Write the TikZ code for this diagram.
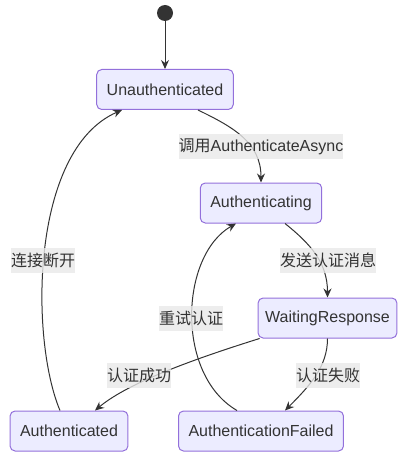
\documentclass[tikz,border=0pt]{standalone}
\usepackage{fontspec}
\setmainfont{Liberation Sans}
\newfontfamily\cjk{Noto Sans CJK SC}
\usetikzlibrary{arrows.meta}
\definecolor{mmfill}{HTML}{ECECFF}
\definecolor{mmline}{HTML}{9370DB}
\definecolor{mmtext}{HTML}{333333}
\definecolor{mmlabel}{HTML}{E8E8E8}

\begin{document}
\begin{tikzpicture}[x=1pt, y=-1pt,
        state/.style={draw=mmline, line width=1pt, rounded corners=5pt, fill=mmfill,
                      text=mmtext, minimum height=40pt, inner xsep=10pt,
                      font=\fontsize{16}{19}\selectfont},
        lbl/.style={fill=mmlabel, fill opacity=0.8, text opacity=1, text=mmtext,
                    inner xsep=0pt, inner ysep=0pt, minimum height=25pt,
                    font=\fontsize{16}{19}\selectfont},
        arr/.style={-{Stealth[length=9pt, width=8pt, inset=3pt]}, line width=1pt, mmtext}
    ]
        \useasboundingbox (0,0) rectangle (399,465);
        % states
        \node[circle, fill=mmtext, inner sep=0pt, minimum size=16pt] (start) at (165,13) {};
        \node[state] (unauth) at (165,89.5) {Unauthenticated};
        \node[state] (authing) at (261,203) {Authenticating};
        \node[state, inner xsep=7pt] (waiting) at (327.5,318) {WaitingResponse};
        \node[state] (authed) at (69,431) {Authenticated};
        \node[state] (failed) at (261,431) {AuthenticationFailed};
        % transitions
        \draw[arr] (start) -- (unauth);
        \draw[arr] ([xshift=33pt]unauth.south) .. controls +(35,17) and +(0,-40) .. (authing.north);
        \draw[arr] ([xshift=24pt]authing.south) .. controls +(25,20) and +(0,-35) .. (waiting.north);
        \draw[arr] ([xshift=2pt]waiting.south west) .. controls +(-80,25) and +(30,-25) .. ([xshift=26pt]authed.north);
        \draw[arr] (waiting.south) .. controls +(0,28) and +(25,-25) .. ([xshift=24pt]failed.north);
        \draw[arr] ([xshift=-9pt]authed.north) .. controls +(-30,-71) and +(-92,40) .. ([xshift=-43pt]unauth.south);
        \draw[arr] ([xshift=-24pt]failed.north) .. controls +(-62,-36) and +(-56,32) .. ([xshift=-25pt]authing.south);
        % labels
        \node[lbl] (lblcall) at (261,147) {{\cjk 调用}AuthenticateAsync};
        \node[lbl] (lblsend) at (328,260) {\cjk 发送认证消息};
        \node[lbl] (lbldrop) at (43,260) {\cjk 连接断开};
        \node[lbl] (lblretry) at (191,318) {\cjk 重试认证};
        \node[lbl] (lblok) at (139,375) {\cjk 认证成功};
        \node[lbl] (lblfail) at (328,375) {\cjk 认证失败};
    \end{tikzpicture}
\end{document}
